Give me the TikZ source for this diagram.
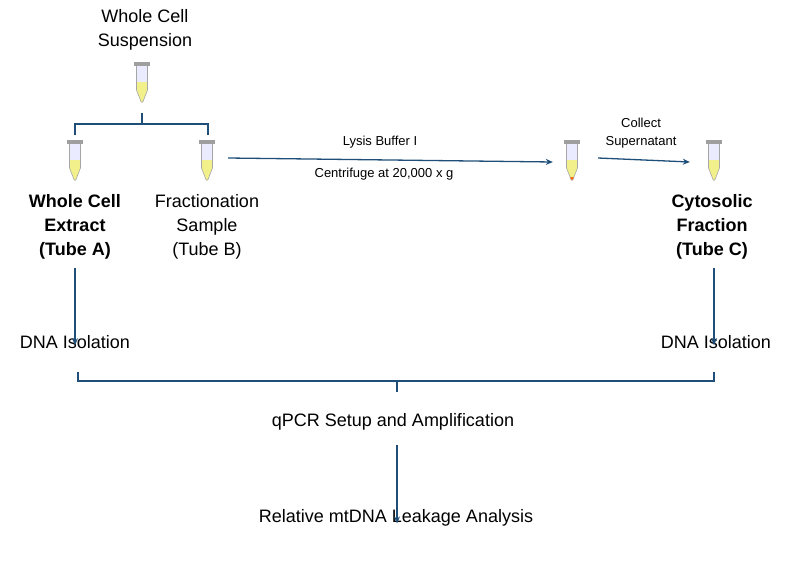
\documentclass[tikz,border=0pt]{standalone}
\usepackage{fontspec}
\setmainfont{Liberation Sans}
\usetikzlibrary{positioning,arrows.meta}
\definecolor{flowblue}{HTML}{1F4E79}
\definecolor{liquid}{HTML}{F2F08A}
\tikzset{
  txt/.style={align=center,font=\fontsize{18}{24}\selectfont,inner sep=0pt},
  boldtxt/.style={align=center,font=\fontsize{18}{24}\selectfont\bfseries,inner sep=0pt},
  small/.style={align=center,font=\fontsize{13}{18}\selectfont,inner sep=0pt},
  flow/.style={draw=flowblue,line width=1.3pt,-{Stealth[length=7pt,width=6pt]}},
  brace/.style={draw=flowblue,line width=1.3pt},
  tubebox/.style={minimum width=16pt,minimum height=40pt,inner sep=0pt},
  tube/.pic={
    \fill[liquid] (-5.5,0) -- (5.5,0) -- (5.5,8) -- (0.8,20) -- (-0.8,20) -- (-5.5,8) -- cycle;
    \fill[pic actions] (-2,17) -- (2,17) -- (0.8,20) -- (-0.8,20) -- cycle;
    \fill[blue!8] (-5.5,-16) rectangle (5.5,0);
    \draw[gray!70,line width=0.6pt] (-5.5,-16) -- (-5.5,8) -- (-0.8,20) -- (0.8,20) -- (5.5,8) -- (5.5,-16);
    \fill[gray!75] (-8,-20) rectangle (8,-16);
  }
}
\begin{document}
\begin{tikzpicture}[x=1pt,y=-1pt]
  \useasboundingbox (0,0) rectangle (800,563);

  %tubes
  \node[tubebox] (t0) at (142,82) {};
  \node[tubebox] (tA) at (75,160) {};
  \node[tubebox] (tB) at (207,160) {};
  \node[tubebox] (tL) at (572,160) {};
  \node[tubebox] (tC) at (714,160) {};
  \pic[fill=liquid] at (t0) {tube};
  \pic[fill=liquid] at (tA) {tube};
  \pic[fill=liquid] at (tB) {tube};
  \pic[fill=orange!80!red] at (tL) {tube};
  \pic[fill=liquid] at (tC) {tube};

  %labels
  \node[txt] (susp) at (145,30) {Whole Cell\\Suspension};
  \node[boldtxt] (extA) at (75,227) {Whole Cell\\Extract\\(Tube A)};
  \node[txt] (fracB) at (207,227) {Fractionation\\Sample\\(Tube B)};
  \node[boldtxt] (cytC) at (712,227) {Cytosolic\\Fraction\\(Tube C)};
  \node[txt] (dnaA) at (75,342) {DNA Isolation};
  \node[txt] (dnaC) at (716,342) {DNA Isolation};
  \node[txt] (qpcr) at (393,422) {qPCR Setup and Amplification};
  \node[txt] (leak) at (396,518) {Relative mtDNA Leakage Analysis};
  \node[small] (lysis) at (380,142) {Lysis Buffer I};
  \node[small] (spin) at (384,174) {Centrifuge at 20,000 x g};
  \node[small] (collect) at (641,133) {Collect\\Supernatant};

  %braces
  \coordinate (b1) at (142,113);
  \draw[brace] (75,135) -- (75,124) -- (208,124) -- (208,135);
  \draw[brace] (142,124) -- (b1);
  \coordinate (b2) at (397,392);
  \draw[brace] (78,372) -- (78,381) -- (714,381) -- (714,372);
  \draw[brace] (397,381) -- (b2);

  %arrows
  \draw[flow] (tB.east) ++(13,-2) -- ([xshift=-11pt,yshift=-2pt]tL.west);
  \draw[flow] (tL.east) ++(18,-2) -- ([xshift=-16pt,yshift=-2pt]tC.west);
  \draw[flow] (extA.south) ++(0,8) -- ([yshift=-10pt]dnaA.north);
  \draw[flow] (cytC.south) ++(2,8) -- ([xshift=-2pt,yshift=-10pt]dnaC.north);
  \draw[flow] (qpcr.south) ++(4,14) -- ([xshift=1pt,yshift=-14pt]leak.north);
\end{tikzpicture}
\end{document}
